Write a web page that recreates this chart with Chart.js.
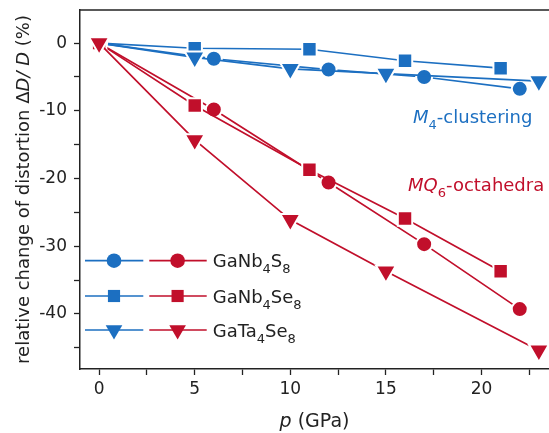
<!DOCTYPE html>
<html>
<head>
<meta charset="utf-8">
<script src="https://cdn.jsdelivr.net/npm/chart.js@4.4.0/dist/chart.umd.min.js"></script>
<style>
  html, body { margin: 0; padding: 0; background: #fff; overflow: hidden; }
  #wrap { width: 549px; height: 433px; }
</style>
</head>
<body>
<div id="wrap"><canvas id="grafica" width="549" height="433"></canvas></div>
<script>
// presiones (GPa) de cada compuesto
const presionNbS = [0, 6, 12, 17, 22];
const presionNbSe = [0, 5, 11, 16, 21];
const presionTaSe = [0, 5, 10, 15, 23];

// cambio relativo de distorsion (%) - clusters M4
const clusterNbS = [0, -2.3, -3.9, -5.0, -6.75];
const clusterNbSe = [0, -0.75, -0.9, -2.6, -3.7];
const clusterTaSe = [0, -2.1, -3.8, -4.5, -5.6];

// cambio relativo de distorsion (%) - octaedros MQ6
const octaNbS = [0, -9.8, -20.6, -29.7, -39.3];
const octaNbSe = [0, -9.2, -18.7, -25.9, -33.7];
const octaTaSe = [0, -14.3, -26.1, -33.7, -45.4];

const compuestos = [
  ["GaNb", "4", "S", "8"],
  ["GaNb", "4", "Se", "8"],
  ["GaTa", "4", "Se", "8"]
];
const marcadores = ["circle", "rect", "triangle"];
const ticksX = [0, 5, 10, 15, 20];
const ticksY = [0, -10, -20, -30, -40];

const AZUL = "#1c6fc1";
const ROJO = "#c10f2b";
const NEGRO = "#222";
const FUENTE = "DejaVu Sans";

const radios = { circle: 8, rect: 10.2, triangle: 11.6 };
const radiosLeyenda = { circle: 7.3, rect: 8.6, triangle: 9.6 };

function serie(nombre, presiones, valores, color, estilo) {
  return {
    label: nombre,
    data: presiones.map((p, i) => ({ x: p, y: valores[i] })),
    borderColor: color,
    backgroundColor: color,
    borderWidth: 1.7,
    tension: 0,
    pointStyle: estilo,
    pointRadius: radios[estilo],
    pointRotation: estilo === "triangle" ? 180 : 0,
    pointBackgroundColor: color,
    pointBorderColor: "#fff",
    pointBorderWidth: 2
  };
}

// dibuja texto con partes (cursiva / subindice) en linea
function textoCompuesto(ctx, partes, x, y, centrado) {
  let total = 0;
  partes.forEach(p => {
    ctx.font = p.font;
    total += ctx.measureText(p.t).width;
  });
  let xi = centrado ? x - total / 2 : x;
  partes.forEach(p => {
    ctx.font = p.font;
    ctx.fillText(p.t, xi, y + (p.dy || 0));
    xi += ctx.measureText(p.t).width;
  });
}

const normal = `18px "${FUENTE}"`;
const cursiva = `italic 18px "${FUENTE}"`;
const sub = `13px "${FUENTE}"`;

const extras = {
  id: "extras",
  afterDraw(chart) {
    const ctx = chart.ctx;
    const area = chart.chartArea;
    const sx = chart.scales.x;
    const sy = chart.scales.y;
    ctx.save();

    // linea superior del marco
    ctx.strokeStyle = NEGRO;
    ctx.lineWidth = 1.5;
    ctx.beginPath();
    ctx.moveTo(area.left - 0.75, area.top);
    ctx.lineTo(area.right, area.top);
    ctx.stroke();

    ctx.textAlign = "left";
    ctx.textBaseline = "alphabetic";

    // titulo eje x
    ctx.fillStyle = NEGRO;
    textoCompuesto(ctx, [
      { t: "p", font: `italic 19px "${FUENTE}"` },
      { t: " (GPa)", font: `19px "${FUENTE}"` }
    ], (area.left + area.right) / 2, 426.5, true);

    // titulo eje y
    ctx.save();
    ctx.translate(29, (area.top + area.bottom) / 2);
    ctx.rotate(-Math.PI / 2);
    textoCompuesto(ctx, [
      { t: "relative change of distortion Δ", font: normal },
      { t: "D/ D", font: cursiva },
      { t: " (%)", font: normal }
    ], 0, 0, true);
    ctx.restore();

    // anotaciones
    ctx.fillStyle = AZUL;
    textoCompuesto(ctx, [
      { t: "M", font: cursiva },
      { t: "4", font: sub, dy: 6 },
      { t: "-clustering", font: normal }
    ], sx.getPixelForValue(16.42), sy.getPixelForValue(-11.8), false);

    ctx.fillStyle = ROJO;
    textoCompuesto(ctx, [
      { t: "MQ", font: cursiva },
      { t: "6", font: sub, dy: 6 },
      { t: "-octahedra", font: normal }
    ], sx.getPixelForValue(16.16), sy.getPixelForValue(-21.9), false);

    // leyenda
    const filas = [260.7, 296, 330];
    const x0 = area.left;
    filas.forEach((fy, i) => {
      const estilo = marcadores[i];
      [[AZUL, 5, 63.3, 34], [ROJO, 69.3, 126.7, 97.6]].forEach(([color, a, b, m]) => {
        ctx.strokeStyle = color;
        ctx.fillStyle = color;
        ctx.lineWidth = 1.7;
        ctx.beginPath();
        ctx.moveTo(x0 + a, fy);
        ctx.lineTo(x0 + b, fy);
        ctx.stroke();
        Chart.helpers.drawPoint(ctx, {
          pointStyle: estilo,
          radius: radiosLeyenda[estilo],
          rotation: estilo === "triangle" ? 180 : 0,
          borderWidth: 0
        }, x0 + m, fy);
      });
      const c = compuestos[i];
      ctx.fillStyle = NEGRO;
      textoCompuesto(ctx, [
        { t: c[0], font: normal },
        { t: c[1], font: sub, dy: 6 },
        { t: c[2], font: normal },
        { t: c[3], font: sub, dy: 6 }
      ], x0 + 132.7, fy + 6.6, false);
    });

    ctx.restore();
  }
};

new Chart(document.getElementById("grafica"), {
  type: "line",
  data: {
    datasets: [
      serie("GaTa4Se8 MQ6", presionTaSe, octaTaSe, ROJO, "triangle"),
      serie("GaNb4Se8 MQ6", presionNbSe, octaNbSe, ROJO, "rect"),
      serie("GaNb4S8 MQ6", presionNbS, octaNbS, ROJO, "circle"),
      serie("GaTa4Se8 M4", presionTaSe, clusterTaSe, AZUL, "triangle"),
      serie("GaNb4Se8 M4", presionNbSe, clusterNbSe, AZUL, "rect"),
      serie("GaNb4S8 M4", presionNbS, clusterNbS, AZUL, "circle")
    ]
  },
  options: {
    responsive: false,
    animation: false,
    events: [],
    layout: { autoPadding: false, padding: { top: 10, right: 0, left: 0, bottom: 0 } },
    plugins: {
      legend: { display: false },
      tooltip: { enabled: false }
    },
    scales: {
      x: {
        type: "linear",
        min: -1,
        max: 23.53,
        border: { color: NEGRO, width: 1.5 },
        grid: { drawOnChartArea: false, drawTicks: true, tickLength: 6, tickColor: NEGRO, tickWidth: 1.3 },
        ticks: {
          stepSize: 2.5,
          includeBounds: false,
          autoSkip: false,
          maxRotation: 0,
          padding: 4,
          color: NEGRO,
          font: { family: FUENTE, size: 17 },
          callback: v => ticksX.includes(v) ? String(v) : ""
        },
        afterFit: s => {
          s.height = 64;
          s.paddingLeft = 0;
          s.paddingRight = 0;
        }
      },
      y: {
        type: "linear",
        min: -48.15,
        max: 4.9,
        border: { color: NEGRO, width: 1.5 },
        grid: { drawOnChartArea: false, drawTicks: true, tickLength: 6, tickColor: NEGRO, tickWidth: 1.3 },
        ticks: {
          stepSize: 5,
          includeBounds: false,
          autoSkip: false,
          padding: 7,
          color: NEGRO,
          font: { family: FUENTE, size: 17 },
          callback: v => ticksY.includes(v) ? String(v) : ""
        },
        afterFit: s => {
          s.width = 80;
          s.paddingTop = 0;
          s.paddingBottom = 0;
        }
      }
    }
  },
  plugins: [extras]
});
</script>
</body>
</html>
